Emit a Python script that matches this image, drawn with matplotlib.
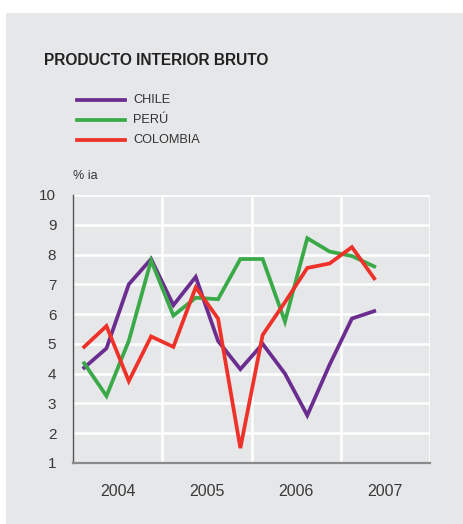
import matplotlib
matplotlib.use("Agg")
import matplotlib.pyplot as plt
from matplotlib.patches import Rectangle

plt.rcParams['font.family'] = ['Liberation Sans', 'DejaVu Sans']

# quarterly data, 2004 Q1 .. 2007 Q2 (% ia)
quarters = list(range(14))
chile = [4.2, 4.85, 7.0, 7.85, 6.3, 7.25, 5.1, 4.15, 5.0, 4.0, 2.6, 4.3, 5.85, 6.1]
peru = [4.35, 3.25, 5.1, 7.8, 5.95, 6.55, 6.5, 7.85, 7.85, 5.75, 8.55, 8.1, 7.95, 7.6]
colombia = [4.9, 5.6, 3.75, 5.25, 4.9, 6.9, 5.85, 1.5, 5.3, 6.4, 7.55, 7.7, 8.25, 7.2]
years = [2004, 2005, 2006, 2007]

series = [("CHILE", chile, "#6b2d8f"),
          ("PERÚ", peru, "#3aaa48"),
          ("COLOMBIA", colombia, "#ee3129")]

bg = "#e6e7e9"
W, H = 463, 524
fig = plt.figure(figsize=(W / 100, H / 100), dpi=100)
fig.patch.set_facecolor("white")
fig.patches.append(Rectangle((6 / W, 0), 1, 1 - 13 / H, transform=fig.transFigure,
                             facecolor=bg, edgecolor="none", zorder=-10))

ax = fig.add_axes([73 / W, 1 - 463 / H, (430 - 73) / W, (463 - 195) / H])
ax.set_facecolor(bg)

xs = [years[0] + (q + 0.5) / 4 for q in quarters]
for name, vals, col in series:
    ax.plot(xs, vals, color=col, lw=2.7, solid_joinstyle="miter", zorder=3)

ax.set_xlim(2004, 2008)
ax.set_ylim(1, 10)
ax.set_yticks(range(1, 11))
ax.set_xticks([y + 0.5 for y in years])
ax.set_xticklabels([str(y) for y in years])
for y in range(2, 11):
    ax.axhline(y, color="white", lw=1.8, zorder=1)
for y in years[1:] + [2008]:
    ax.axvline(y, color="white", lw=1.8, zorder=1)

for s in ["top", "right"]:
    ax.spines[s].set_visible(False)
ax.spines["left"].set_color("#555555")
ax.spines["bottom"].set_color("#8a8a8a")
ax.spines["left"].set_linewidth(1.0)
ax.spines["bottom"].set_linewidth(1.6)
ax.tick_params(axis="both", length=0, colors="#3a3a3a")
ax.tick_params(axis="y", pad=12, labelsize=11)
ax.tick_params(axis="x", pad=15, labelsize=11.5)

fig.text(44 / W, 1 - 61 / H, "PRODUCTO INTERIOR BRUTO", fontsize=11.2, fontweight="bold",
         color="#222222", va="center", ha="left")

for i, (name, vals, col) in enumerate(series):
    yy = 1 - (100 + 20 * i) / H
    fig.lines.append(plt.Line2D([77 / W, 125 / W], [yy, yy], transform=fig.transFigure,
                                color=col, lw=2.7))
    fig.text(133 / W, yy, name, fontsize=9.2, color="#333333", va="center", ha="left")

fig.text(73 / W, 1 - 176 / H, "% ia", fontsize=9, color="#333333", va="center", ha="left")

fig.savefig("out.png", dpi=100, facecolor=fig.get_facecolor())
